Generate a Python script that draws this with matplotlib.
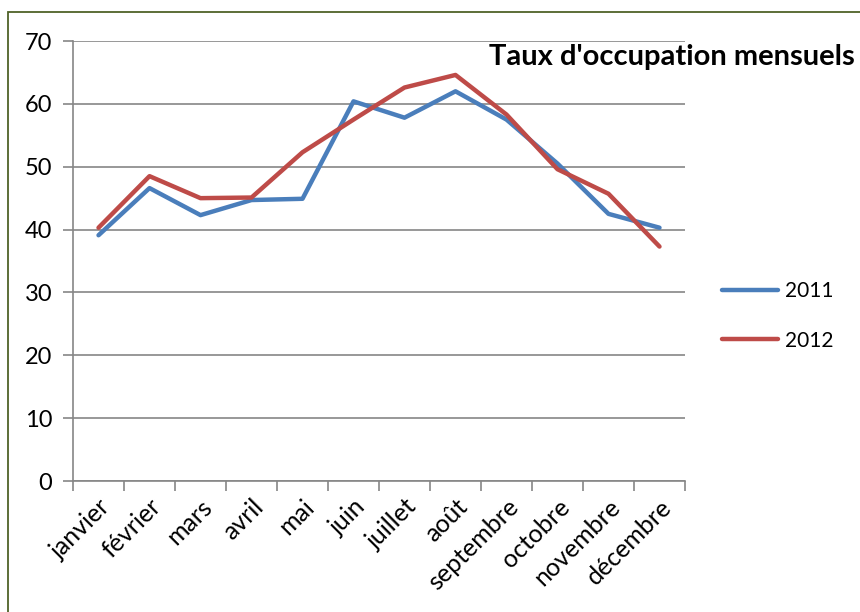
import matplotlib.pyplot as plt
from matplotlib.patches import Rectangle

mois = ['janvier', 'février', 'mars', 'avril', 'mai', 'juin', 'juillet',
        'août', 'septembre', 'octobre', 'novembre', 'décembre']
taux_2011 = [39.1, 46.6, 42.3, 44.7, 44.9, 60.4, 57.8, 62.0, 57.5, 50.5, 42.5, 40.3]
taux_2012 = [40.3, 48.5, 45.0, 45.1, 52.3, 57.5, 62.6, 64.6, 58.3, 49.6, 45.7, 37.3]

plt.rcParams['font.family'] = ['Lato', 'DejaVu Sans']

fig = plt.figure(figsize=(8.6, 6.12), dpi=100)
ax = fig.add_axes([0.0849, 0.214, 0.7116, 0.719])

x = list(range(len(mois)))
ax.plot(x, taux_2011, color='#4a7ebb', lw=3.2, label='2011', solid_capstyle='round')
ax.plot(x, taux_2012, color='#be4b48', lw=3.2, label='2012', solid_capstyle='round')

ax.set_ylim(0, 70)
ax.set_yticks(range(0, 71, 10))
ax.set_xlim(-0.5, len(mois) - 0.5)
ax.set_xticks([i - 0.5 for i in range(len(mois) + 1)])
ax.set_xticklabels([])
ax.set_xticks(x, minor=True)
ax.set_xticklabels(mois, minor=True, rotation=45, ha='right', rotation_mode='anchor',
                   fontsize=18)
ax.tick_params(axis='x', which='minor', length=0, pad=10)
ax.tick_params(axis='x', which='major', length=7, width=1.2, color='#868686')
ax.tick_params(axis='y', length=7, width=1.2, color='#868686', labelsize=17, pad=8)

ax.grid(axis='y', color='#868686', lw=1.2)
ax.set_axisbelow(True)
for s in ['top', 'right']:
    ax.spines[s].set_visible(False)
for s in ['left', 'bottom']:
    ax.spines[s].set_color('#868686')
    ax.spines[s].set_linewidth(1.2)

fig.text(0.994, 0.907, "Taux d'occupation mensuels", ha='right', va='center',
         fontsize=21, fontweight='bold')

leg = ax.legend(loc='center left', bbox_to_anchor=(1.03, 0.375), frameon=False,
                fontsize=15, handlelength=2.7, labelspacing=1.4, handletextpad=0.3)

fig.patches.append(Rectangle((8 / 860, -0.1), 1.2, 1.1 - 12 / 612, transform=fig.transFigure,
                             fill=False, edgecolor='#4f6228', lw=1.3))

fig.savefig('out.png', dpi=100)
